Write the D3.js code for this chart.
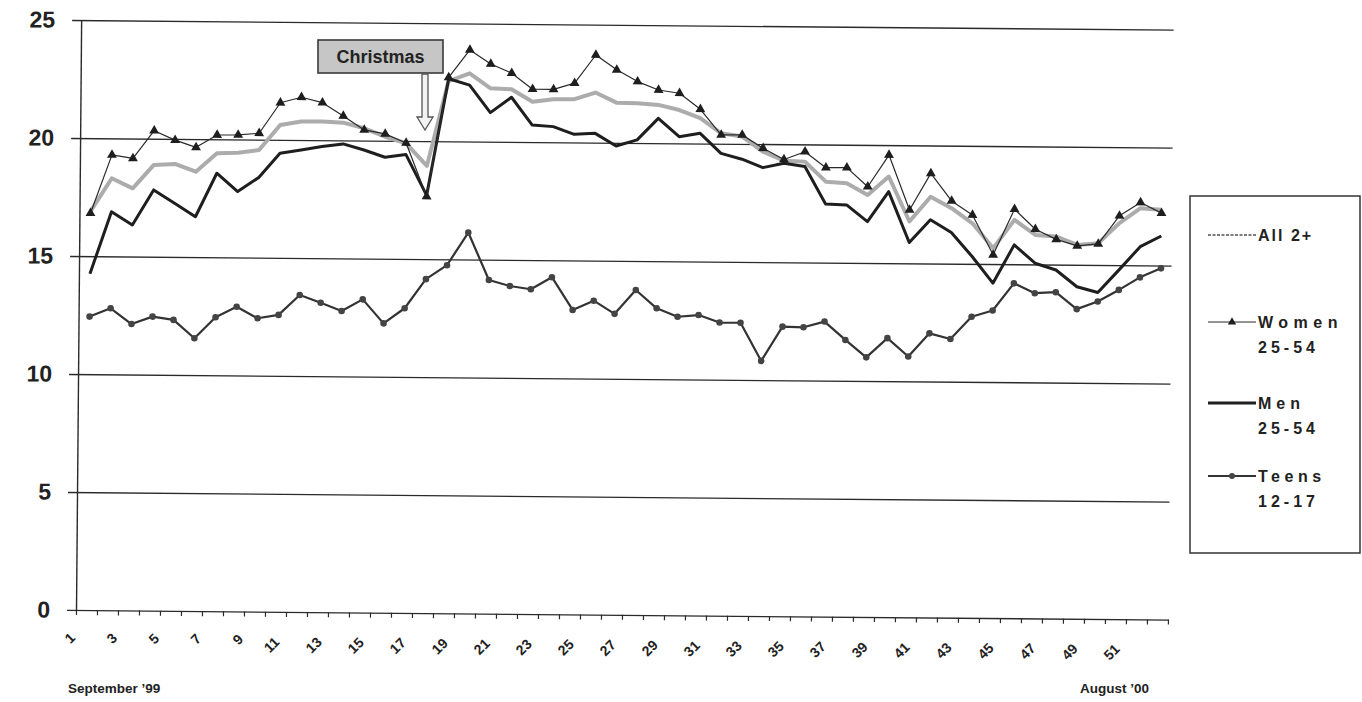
<!DOCTYPE html>
<html><head><meta charset="utf-8">
<script src="https://cdn.jsdelivr.net/npm/d3@7"></script>
<style>
html,body{margin:0;padding:0;background:#fff;}
svg{display:block;font-family:"Liberation Sans",Arial,sans-serif;}
</style></head><body>
<svg id="chart" width="1362" height="702"></svg>
<script>
// Weekly ratings, week 1 = September '99 ... week 52 = August '00
const weeks = [1,2,3,4,5,6,7,8,9,10,11,12,13,14,15,16,17,18,19,20,21,22,23,24,25,26,
  27,28,29,30,31,32,33,34,35,36,37,38,39,40,41,42,43,44,45,46,47,48,49,50,51,52];
const tickWeeks = [1,3,5,7,9,11,13,15,17,19,21,23,25,27,29,31,33,35,37,39,41,43,45,47,49,51];
const yTicks = [0,5,10,15,20,25];

const allViewers = [16.9,18.31,17.89,18.89,18.94,18.62,19.41,19.44,19.56,20.63,
  20.78,20.79,20.75,20.52,20.17,19.9,18.95,22.55,22.89,22.26,
  22.23,21.71,21.82,21.83,22.12,21.70,21.68,21.62,21.41,21.07,
  20.44,20.31,19.68,19.3,19.27,18.43,18.37,17.88,18.67,16.77,
  17.83,17.35,16.72,15.67,16.88,16.25,16.19,15.84,15.92,16.78,
  17.42,17.36];
const women2554 = [16.82,19.30,19.16,20.34,19.95,19.65,20.18,20.19,20.27,21.57,
  21.81,21.59,21.03,20.45,20.29,19.91,17.65,22.71,23.88,23.29,
  22.91,22.24,22.24,22.51,23.71,23.09,22.60,22.25,22.12,21.45,
  20.37,20.38,19.82,19.35,19.69,19.02,19.03,18.23,19.58,17.26,
  18.82,17.66,17.07,15.39,17.33,16.49,16.07,15.80,15.89,17.09,
  17.66,17.22];
const men2554 = [14.25,16.89,16.34,17.83,17.27,16.71,18.56,17.79,18.4,19.43,
  19.58,19.73,19.85,19.6,19.30,19.42,17.7,22.65,22.39,21.23,
  21.89,20.72,20.66,20.34,20.39,19.86,20.13,21.05,20.28,20.43,
  19.59,19.35,19.0,19.19,19.06,17.48,17.45,16.75,18.03,15.88,
  16.85,16.32,15.31,14.19,15.82,15.05,14.77,14.07,13.83,14.80,
  15.79,16.25];
const teens1217 = [12.44,12.80,12.14,12.46,12.33,11.56,12.46,12.91,12.43,12.58,
  13.43,13.11,12.77,13.27,12.26,12.91,14.15,14.75,16.14,14.14,
  13.89,13.76,14.28,12.90,13.30,12.75,13.77,13.0,12.65,12.73,
  12.42,12.42,10.81,12.27,12.25,12.50,11.73,11.0,11.82,11.05,
  12.04,11.81,12.76,13.03,14.19,13.78,13.83,13.12,13.45,13.95,
  14.49,14.88];

const FONT = '"Liberation Sans", Arial, sans-serif';
const INK = '#222';

const svg = d3.select('#chart');
// the printed sheet sits a touch askew
const plot = svg.append('g').attr('transform', 'rotate(0.5,70,610)');

const x = d3.scaleBand().domain(weeks).range([76.5, 1168.5]).padding(0);
const y = d3.scaleLinear().domain([0, 25]).range([610, 20]);
const cx = w => x(w) + x.bandwidth() / 2;

// horizontal gridlines with value labels
const gridLeft = 67, gridRight = 1168.5;
plot.append('g')
  .attr('transform', `translate(${gridLeft},0)`)
  .call(d3.axisLeft(y).tickValues(yTicks).tickSize(-(gridRight - gridLeft))
        .tickPadding(17).tickFormat(d3.format('d')))
  .call(g => g.select('.domain').remove())
  .call(g => g.attr('font-family', FONT))
  .call(g => g.selectAll('line').attr('stroke', '#2a2a2a').attr('stroke-width', 1.3))
  .call(g => g.selectAll('text').attr('font-size', 23).attr('font-weight', 'bold').attr('fill', INK));

// vertical value axis
plot.append('line')
  .attr('x1', x.range()[0]).attr('x2', x.range()[0])
  .attr('y1', y(25)).attr('y2', y(0))
  .attr('stroke', '#2a2a2a').attr('stroke-width', 1.4);

// category tick marks between weeks
const bounds = weeks.map(w => x(w)).concat([x.range()[1]]);
plot.append('g').selectAll('line').data(bounds).join('line')
  .attr('x1', d => d).attr('x2', d => d)
  .attr('y1', y(0)).attr('y2', y(0) + 5)
  .attr('stroke', '#2a2a2a').attr('stroke-width', 1.2);

// slanted week labels
plot.append('g').selectAll('text').data(tickWeeks).join('text')
  .each(function (w) {
    const len = String(w).length;
    const tx = cx(w) - 17 - 8 * (len - 1);
    const ty = y(0) + 28 + 5 * (len - 1);
    d3.select(this).attr('transform', `translate(${tx},${ty}) rotate(-45)`);
  })
  .attr('text-anchor', 'middle').attr('dy', '0.35em')
  .attr('font-family', FONT).attr('font-size', 14).attr('font-weight', 'bold')
  .attr('fill', INK)
  .text(d => d);

const line = d3.line().x((d, i) => cx(weeks[i])).y(d => y(d));

// All 2+
plot.append('path').datum(allViewers)
  .attr('d', line).attr('fill', 'none')
  .attr('stroke', '#acacac').attr('stroke-width', 4).attr('stroke-linejoin', 'round');

// Men 25-54
plot.append('path').datum(men2554)
  .attr('d', line).attr('fill', 'none')
  .attr('stroke', '#1e1e1e').attr('stroke-width', 3).attr('stroke-linejoin', 'round');

// Teens 12-17
plot.append('path').datum(teens1217)
  .attr('d', line).attr('fill', 'none')
  .attr('stroke', '#333').attr('stroke-width', 2.2).attr('stroke-linejoin', 'round');
plot.append('g').selectAll('circle').data(teens1217).join('circle')
  .attr('cx', (d, i) => cx(weeks[i])).attr('cy', d => y(d)).attr('r', 3.3)
  .attr('fill', '#444');

// Women 25-54
plot.append('path').datum(women2554)
  .attr('d', line).attr('fill', 'none')
  .attr('stroke', '#2a2a2a').attr('stroke-width', 1.2).attr('stroke-linejoin', 'round');
const tri = d3.symbol().type(d3.symbolTriangle).size(42);
plot.append('g').selectAll('path').data(women2554).join('path')
  .attr('d', tri)
  .attr('transform', (d, i) => `translate(${cx(weeks[i])},${y(d)})`)
  .attr('fill', '#1e1e1e');

// Christmas callout
const note = svg.append('g');
note.append('rect').attr('x', 318).attr('y', 40).attr('width', 125).attr('height', 33)
  .attr('fill', '#c6c6c6').attr('stroke', '#3a3a3a').attr('stroke-width', 1.6);
note.append('text').attr('x', 380.5).attr('y', 63)
  .attr('text-anchor', 'middle').attr('font-family', FONT)
  .attr('font-size', 18).attr('font-weight', 'bold').attr('fill', INK)
  .text('Christmas');
note.append('path')
  .attr('d', 'M422,74 L422,117 L417,117 L425,130 L433,117 L428,117 L428,74 Z')
  .attr('fill', '#f2f2f2').attr('stroke', '#555').attr('stroke-width', 1.3);

// period labels under the axis
svg.append('text').attr('x', 68).attr('y', 693)
  .attr('font-family', FONT).attr('font-size', 13.5).attr('font-weight', 'bold').attr('fill', INK)
  .text('September ’99');
svg.append('text').attr('x', 1080).attr('y', 693)
  .attr('font-family', FONT).attr('font-size', 13.5).attr('font-weight', 'bold').attr('fill', INK)
  .text('August ’00');

// legend
const legend = svg.append('g');
legend.append('rect').attr('x', 1190).attr('y', 196).attr('width', 170).attr('height', 357)
  .attr('fill', '#fff').attr('stroke', '#333').attr('stroke-width', 1.5);

const legendRows = [
  { lines: ['All 2+'], spacing: [2], y: 235, stroke: '#7a7a7a', width: 2, dash: '3,1.5', mark: null },
  { lines: ['Women', '25-54'], spacing: [5.5, 4], y: 322, stroke: '#2a2a2a', width: 1.2, dash: null, mark: 'tri' },
  { lines: ['Men', '25-54'], spacing: [5, 4], y: 403, stroke: '#1e1e1e', width: 3, dash: null, mark: null },
  { lines: ['Teens', '12-17'], spacing: [4.5, 4], y: 476, stroke: '#333', width: 2, dash: null, mark: 'dot' }
];
legendRows.forEach(r => {
  legend.append('line').attr('x1', 1208).attr('x2', 1256).attr('y1', r.y).attr('y2', r.y)
    .attr('stroke', r.stroke).attr('stroke-width', r.width)
    .attr('stroke-dasharray', r.dash);
  if (r.mark === 'tri') {
    legend.append('path').attr('d', d3.symbol().type(d3.symbolTriangle).size(30))
      .attr('transform', `translate(1232,${r.y})`).attr('fill', '#1e1e1e');
  } else if (r.mark === 'dot') {
    legend.append('circle').attr('cx', 1232).attr('cy', r.y).attr('r', 3).attr('fill', '#444');
  }
  r.lines.forEach((t, k) => {
    legend.append('text').attr('x', 1258).attr('y', r.y + 6 + k * 25)
      .attr('font-family', FONT).attr('font-size', 16).attr('font-weight', 'bold')
      .attr('letter-spacing', r.spacing[k]).attr('fill', INK)
      .text(t);
  });
});
</script>
</body></html>
